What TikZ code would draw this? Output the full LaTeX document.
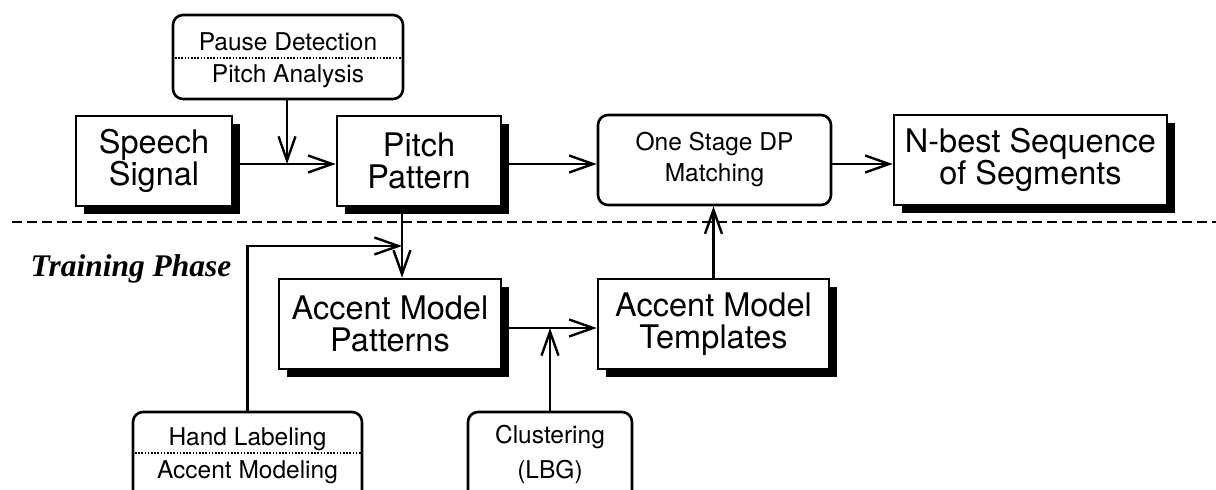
\documentclass[tikz,border=0pt]{standalone}
\usepackage{fontspec}
\setmainfont{TeX Gyre Heros}
\newfontfamily\tpfont{Liberation Serif}
\usetikzlibrary{arrows.meta,shadows}
\newcommand\BigTxt{\fontsize{32.5}{32}\selectfont}
\newcommand\SmallTxt{\fontsize{24.5}{31}\selectfont}
\begin{document}
\begin{tikzpicture}[x=1pt,y=-1pt,
  box/.style={draw, line width=2.6pt, fill=white, inner sep=0pt, align=center, font=\BigTxt,
    drop shadow={shadow xshift=8pt, shadow yshift=-8pt, opacity=1, fill=black}},
  rbox/.style={draw, line width=2.6pt, fill=white, inner sep=0pt, align=center, rounded corners=10pt},
  txt/.style={inner sep=0pt, anchor=base, font=\SmallTxt},
  conn/.style={line width=2.4pt, -{Straight Barb[length=24pt,width=17pt,line width=2.4pt]}},
  sep/.style={line width=1.5pt, dash pattern=on 1.6pt off 1.6pt},
  divider/.style={line width=2pt, dash pattern=on 10pt off 5pt}]
\useasboundingbox (0,0) rectangle (1216,490);
\clip (0,0) rectangle (1216,490);

% dashed phase divider
\coordinate (dl) at (12,222);
\coordinate (dr) at (1216,222);
\draw[divider] (dl) -- (dr);

% upper row
\node[box, minimum width=156pt, minimum height=90pt] (speech) at (154,161) {Speech\\Signal};
\node[box, minimum width=164pt, minimum height=90pt] (pitch) at (419,161) {Pitch\\Pattern};
\node[rbox, minimum width=233pt, minimum height=90pt, font=\SmallTxt] (dp) at (714.5,160) {One Stage DP\\Matching};
\node[box, minimum width=273pt, minimum height=90pt] (nbest) at (1030.5,160) {N-best Sequence\\of Segments};

% pause / pitch analysis box
\node[rbox, minimum width=230pt, minimum height=84pt] (pause) at (288,57) {};
\node[txt] (pd) at (288,50) {Pause Detection};
\node[txt] (pa) at (288,82) {Pitch Analysis};
\draw[sep] (pause.west |- 0,58) -- (pause.east |- 0,58);

% lower row
\node[box, minimum width=222pt, minimum height=90pt] (amp) at (390,324) {Accent Model\\Patterns};
\node[box, minimum width=231pt, minimum height=90pt] (amt) at (713.5,324) {Accent Model\\Templates};

\node[rbox, minimum width=229pt, minimum height=100pt] (hand) at (247.5,462) {};
\node[txt] (hl) at (247.5,445) {Hand Labeling};
\node[txt] (am) at (247.5,478) {Accent Modeling};
\draw[sep] (hand.west |- 0,453) -- (hand.east |- 0,453);

\node[rbox, minimum width=164pt, minimum height=100pt] (clust) at (550,462) {};
\node[txt] (cl) at (550,443) {Clustering};
\node[txt] (lbg) at (550,478) {(LBG)};

\node[inner sep=0pt, font={\tpfont\fontsize{31.5}{32}\selectfont\bfseries\itshape}] (tp) at (131,269) {Training Phase};

% connectors
\coordinate (j1) at (287,164);
\coordinate (j2) at (402,246);
\coordinate (j3) at (550,328);
\draw[conn] (speech.east |- j1) -- (pitch.west |- j1);
\draw[conn] (pause.south -| j1) -- (j1);
\draw[conn] (pitch.east |- j1) -- (dp.west |- j1);
\draw[conn] (dp.east |- j1) -- (nbest.west |- j1);
\draw[conn] (pitch.south -| j2) -- (amp.north -| j2);
\draw[conn] (hand.north) |- (j2);
\draw[conn] (amp.east |- j3) -- (amt.west |- j3);
\draw[conn] (clust.north) -- (j3);
\draw[conn] (amt.north) -- (amt.north |- dp.south);
\end{tikzpicture}
\end{document}
